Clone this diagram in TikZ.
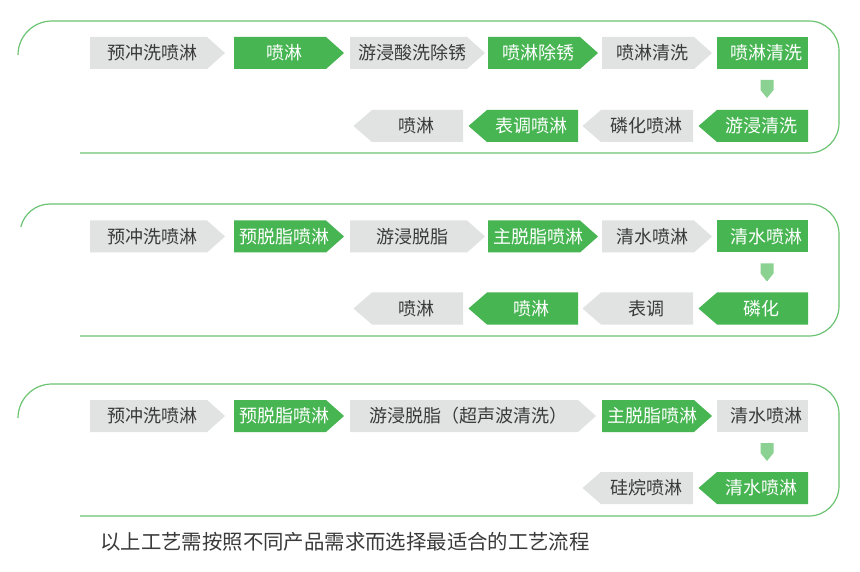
\documentclass[tikz,border=0pt]{standalone}
\usepackage{fontspec}
\newfontfamily\cjk{Noto Sans CJK SC}
\definecolor{pgreen}{HTML}{47B552}
\definecolor{pgray}{HTML}{E1E2E2}
\definecolor{plight}{HTML}{8BD192}
\definecolor{pline}{HTML}{6CC373}
\definecolor{ptext}{HTML}{3A3A3A}
\tikzset{
  txt/.style={inner sep=0pt, font=\cjk\fontsize{18}{18}\selectfont},
  frame/.style={draw=pline, line width=1.2pt},
}
% right-pointing step: name, left, right, ycenter, fill, text colour, text
\newcommand\rstep[7]{%
  \fill[#5] (#2,#4-16) -- (#3,#4-16) -- (#3+18,#4) -- (#3,#4+16) -- (#2,#4+16) -- cycle;
  \node[txt, text=#6] (#1) at ({(#2+#3)/2+4},#4) {#7};}
% left-pointing step
\newcommand\lstep[7]{%
  \fill[#5] (#2,#4-16) -- (#3,#4-16) -- (#3,#4+16) -- (#2,#4+16) -- (#2-18.5,#4) -- cycle;
  \node[txt, text=#6] (#1) at ({(#2+#3)/2-1},#4) {#7};}
% plain rectangle step
\newcommand\pstep[7]{%
  \fill[#5] (#2,#4-16) rectangle (#3,#4+16);
  \node[txt, text=#6] (#1) at ({(#2+#3)/2+4},#4) {#7};}
% small down arrow: top y
\newcommand\dnarrow[1]{%
  \fill[plight] (760.5,#1) -- (773.5,#1) -- (773.5,#1+10) -- (767,#1+18) -- (760.5,#1+10) -- cycle;}
\begin{document}
\begin{tikzpicture}[x=1pt,y=-1pt]
\useasboundingbox (0,0) rectangle (860,572);
\fill[white] (0,0) rectangle (860,572);

% ---------- panel 1 ----------
\draw[frame] (18,55) arc[start angle=180,end angle=270,radius=34] -- (809,21)
  arc[start angle=270,end angle=360,radius=30] -- (839,123)
  arc[start angle=0,end angle=90,radius=30] -- (80,153);
\rstep{a1}{90}{207}{53}{pgray}{ptext}{预冲洗喷淋}
\rstep{a2}{234}{326}{53}{pgreen}{white}{喷淋}
\rstep{a3}{350}{467}{53}{pgray}{ptext}{游浸酸洗除锈}
\rstep{a4}{488}{580}{53}{pgreen}{white}{喷淋除锈}
\rstep{a5}{602}{694}{53}{pgray}{ptext}{喷淋清洗}
\pstep{a6}{717}{808}{53}{pgreen}{white}{喷淋清洗}
\dnarrow{80}
\lstep{a7}{717}{808}{126}{pgreen}{white}{游浸清洗}
\lstep{a8}{601}{693}{126}{pgray}{ptext}{磷化喷淋}
\lstep{a9}{487}{578}{126}{pgreen}{white}{表调喷淋}
\lstep{a10}{372}{463}{126}{pgray}{ptext}{喷淋}

% ---------- panel 2 ----------
\draw[frame] (20.83,227) arc[start angle=193.5,end angle=270,radius=30] -- (809,204)
  arc[start angle=270,end angle=360,radius=30] -- (839,306)
  arc[start angle=0,end angle=90,radius=30] -- (80,336);
\rstep{b1}{90}{207}{236.5}{pgray}{ptext}{预冲洗喷淋}
\rstep{b2}{234}{326}{236.5}{pgreen}{white}{预脱脂喷淋}
\rstep{b3}{350}{467}{236.5}{pgray}{ptext}{游浸脱脂}
\rstep{b4}{488}{580}{236.5}{pgreen}{white}{主脱脂喷淋}
\rstep{b5}{602}{694}{236.5}{pgray}{ptext}{清水喷淋}
\pstep{b6}{717}{808}{236.5}{pgreen}{white}{清水喷淋}
\dnarrow{263.5}
\lstep{b7}{717}{808}{308.5}{pgreen}{white}{磷化}
\lstep{b8}{601}{693}{308.5}{pgray}{ptext}{表调}
\lstep{b9}{487}{578}{308.5}{pgreen}{white}{喷淋}
\lstep{b10}{372}{463}{308.5}{pgray}{ptext}{喷淋}

% ---------- panel 3 ----------
\draw[frame] (18,418) arc[start angle=180,end angle=270,radius=34] -- (809,384)
  arc[start angle=270,end angle=360,radius=30] -- (839,486)
  arc[start angle=0,end angle=90,radius=30] -- (80,516);
\rstep{c1}{90}{207}{416}{pgray}{ptext}{预冲洗喷淋}
\rstep{c2}{234}{326}{416}{pgreen}{white}{预脱脂喷淋}
\rstep{c3}{350}{578}{416}{pgray}{ptext}{游浸脱脂（超声波清洗）}
\rstep{c4}{602}{694}{416}{pgreen}{white}{主脱脂喷淋}
\pstep{c5}{717}{808}{416}{pgray}{ptext}{清水喷淋}
\dnarrow{443}
\lstep{c6}{717}{808}{488}{pgreen}{white}{清水喷淋}
\lstep{c7}{601}{693}{488}{pgray}{ptext}{硅烷喷淋}

% ---------- caption ----------
\node[inner sep=0pt, anchor=west, text=ptext, font=\cjk\fontsize{20.4}{20.4}\selectfont] (cap) at (100,542) {以上工艺需按照不同产品需求而选择最适合的工艺流程};
\end{tikzpicture}
\end{document}
